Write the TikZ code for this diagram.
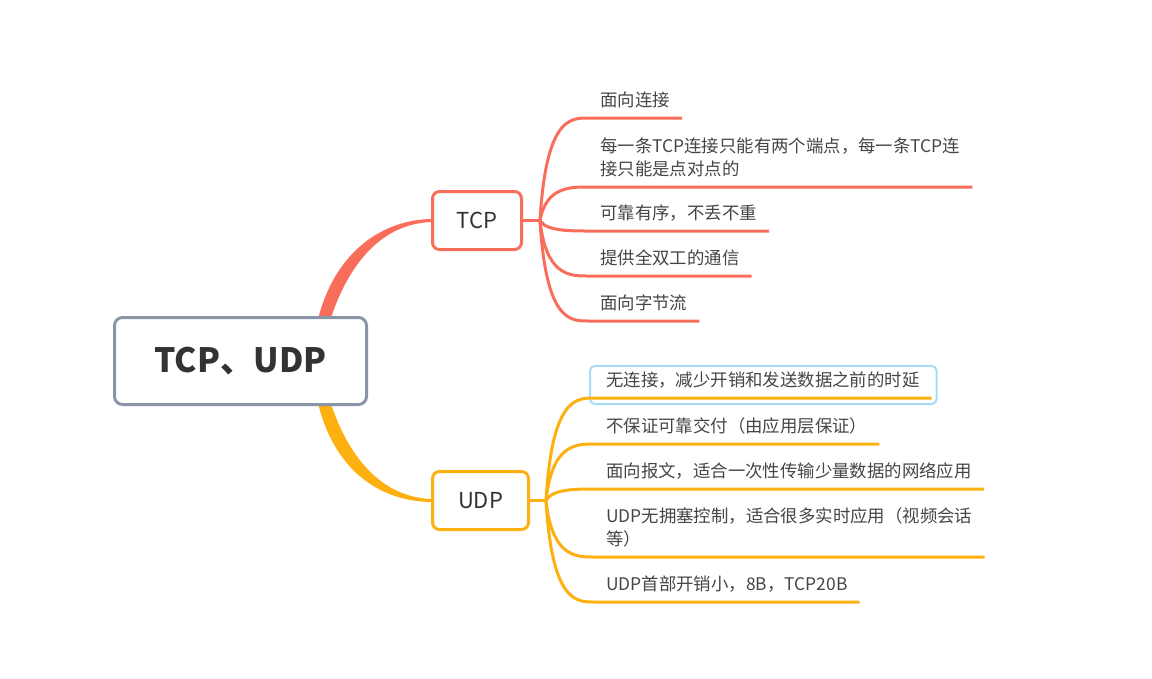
\documentclass[tikz,border=0pt]{standalone}
\usepackage{fontspec}
\setmainfont{Noto Sans CJK SC}
\usetikzlibrary{calc}
\definecolor{tcpc}{HTML}{F96E5B}
\definecolor{udpc}{HTML}{FDB00F}
\definecolor{rootc}{HTML}{8A96A8}
\definecolor{txtc}{HTML}{333333}
\definecolor{subtxt}{HTML}{454545}
\definecolor{selc}{HTML}{A6DCF6}
\newcommand\lst{\rule[-4pt]{0pt}{18pt}}
\begin{document}
\begin{tikzpicture}[x=1pt,y=-1pt,
  rootbox/.style={draw=rootc, line width=3pt, rounded corners=8pt, fill=white, minimum width=252pt, minimum height=87pt, inner sep=0pt, font=\fontsize{33.5}{38}\selectfont\bfseries, text=txtc},
  tcpbox/.style={draw=tcpc, line width=3pt, rounded corners=7pt, fill=white, minimum width=89pt, minimum height=58pt, inner sep=0pt, font=\fontsize{22}{26}\selectfont, text=txtc},
  udpbox/.style={tcpbox, draw=udpc, minimum width=96pt},
  leaf/.style={anchor=south west, inner xsep=12pt, inner ysep=7pt, align=left, font=\fontsize{17.4}{23}\selectfont, text=subtxt},
  tline/.style={draw=tcpc, line width=3pt},
  uline/.style={draw=udpc, line width=3pt},
]
\useasboundingbox (0,0) rectangle (1152,678);

\path (240.5,361) coordinate (mainc);
\path (477,220.5) coordinate (tcpc0);
\path (480.5,500.5) coordinate (udpc0);

% tapered main connectors
\fill[tcpc] (316.5,325.5) .. controls (333,250) and (385,219) .. (432.5,219)
   -- (432.5,222) .. controls (388,223) and (350,255) .. (328.5,325.5) -- cycle;
\fill[udpc] (316.5,396.5) .. controls (333,475) and (385,502) .. (432.5,502)
   -- (432.5,499) .. controls (388,498) and (350,466) .. (328.5,396.5) -- cycle;

\node[rootbox] (main) at (mainc) {TCP、UDP};
\node[tcpbox] (tcp) at (tcpc0) {TCP};
\node[udpbox] (udp) at (udpc0) {UDP};

% TCP leaves
\node[leaf] (t1) at (588,118) {\lst 面向连接};
\node[leaf] (t2) at (588,187) {\lst 每一条TCP连接只能有两个端点，每一条TCP连\\\lst 接只能是点对点的};
\node[leaf] (t3) at (588,231) {\lst 可靠有序，不丢不重};
\node[leaf] (t4) at (588,276) {\lst 提供全双工的通信};
\node[leaf] (t5) at (588,321) {\lst 面向字节流};

% UDP leaves
\node[leaf] (u1) at (594,398) {\lst 无连接，减少开销和发送数据之前的时延};
\node[leaf] (u2) at (594,444) {\lst 不保证可靠交付（由应用层保证）};
\node[leaf] (u3) at (594,489) {\lst 面向报文，适合一次性传输少量数据的网络应用};
\node[leaf] (u4) at (594,557) {\lst UDP无拥塞控制，适合很多实时应用（视频会话\\\lst 等）};
\node[leaf] (u5) at (594,602) {\lst UDP首部开销小，8B，TCP20B};

% selection box
\draw[selc, line width=2pt, rounded corners=5pt] ($(u1.north west)+(-4,1)$) rectangle ($(u1.south east)+(5,6)$);

% TCP branches
\coordinate (tj) at ($(tcp.east)+(17,0)$);
\draw[tline] (tcp.east) -- (tj);
\foreach \n in {t1,t2,t3,t4,t5}{
  \draw[tline] (tj) .. controls ($(tj |- \n.south west)+(6,0)$) and ($(tj |- \n.south west)+(30,0)$) .. (\n.south west) -- (\n.south east);
}
% UDP branches
\coordinate (uj) at ($(udp.east)+(16,0)$);
\draw[uline] (udp.east) -- (uj);
\foreach \n in {u1,u2,u3,u4,u5}{
  \draw[uline] (uj) .. controls ($(uj |- \n.south west)+(6,0)$) and ($(uj |- \n.south west)+(30,0)$) .. (\n.south west) -- (\n.south east);
}
\end{tikzpicture}
\end{document}
